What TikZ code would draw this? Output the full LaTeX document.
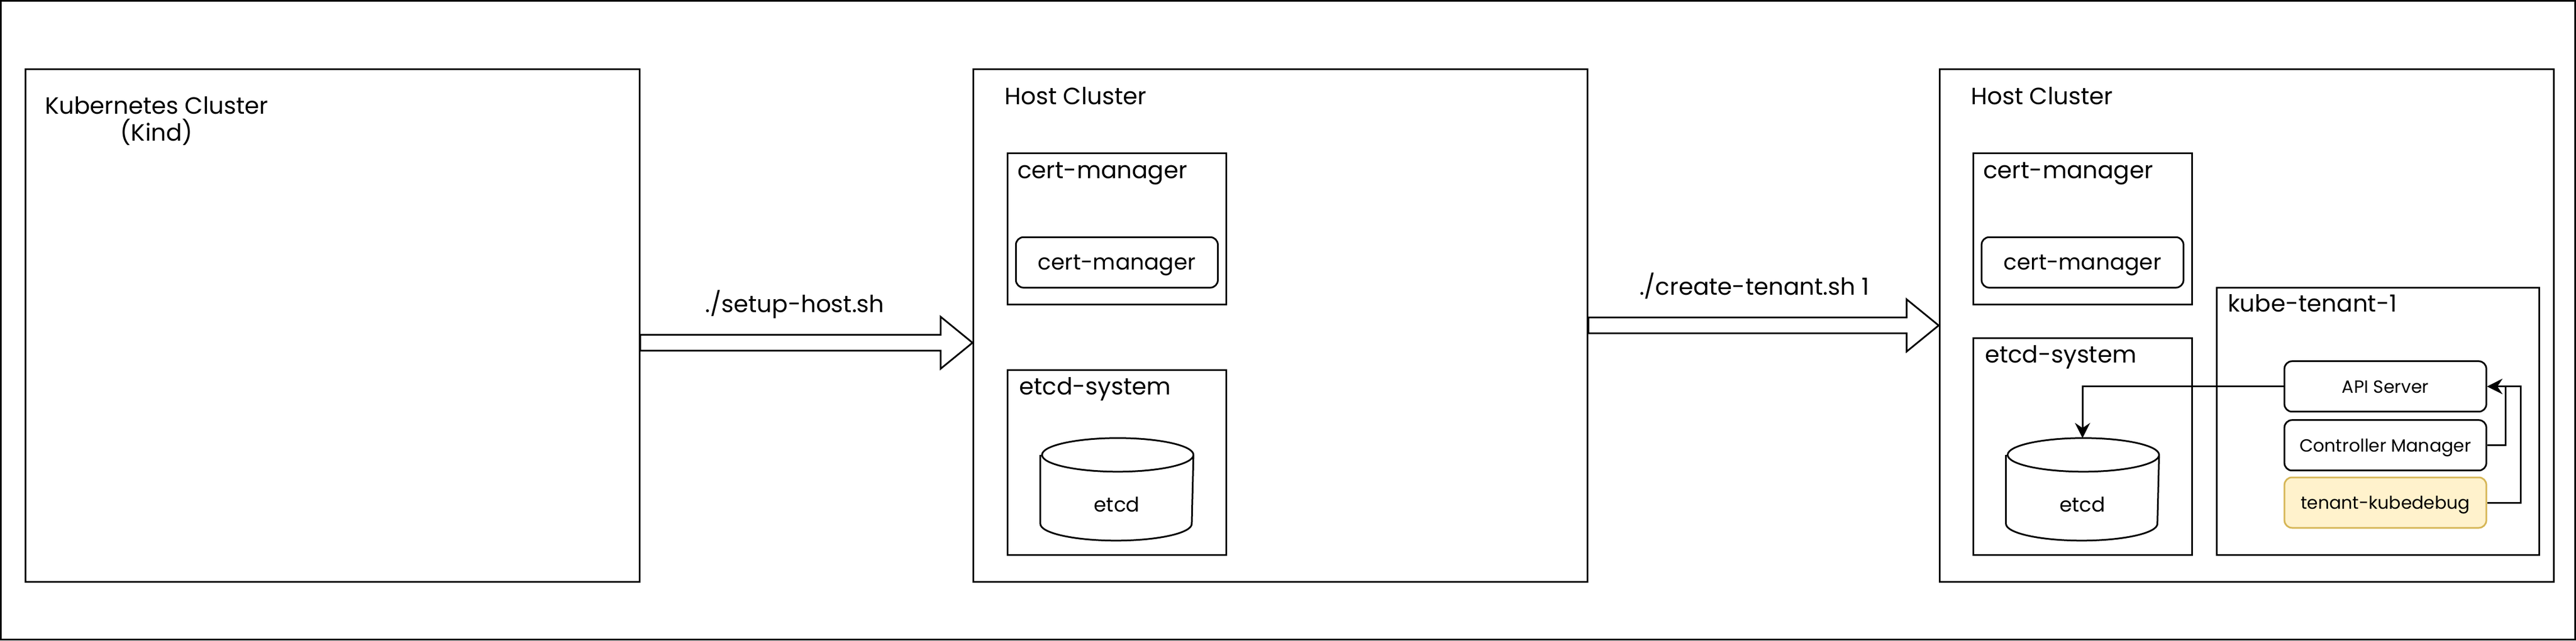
\documentclass[tikz,border=0pt]{standalone}
\usepackage{fontspec}
\setmainfont{Poppins}
\usetikzlibrary{arrows.meta}
\usetikzlibrary{calc}
\usetikzlibrary{positioning}

\definecolor{debugfill}{HTML}{FFF2CC}
\definecolor{debugline}{HTML}{D6B656}

% cylinder outline on a named node
\newcommand{\drawcyl}[1]{%
  \draw ([yshift=-10pt]#1.north west) -- ([yshift=10pt]#1.south west)
    arc[start angle=180,end angle=360,x radius=45pt,y radius=10pt]
    -- ([yshift=-10pt]#1.north east)
    arc[start angle=0,end angle=180,x radius=45pt,y radius=10pt]
    arc[start angle=180,end angle=360,x radius=45pt,y radius=10pt];}

% block arrow between two points
\newcommand{\bigarrow}[2]{%
  \draw[fill=white] let \p1=(#1), \p2=(#2) in
    (\x1,\y1+4.7pt) -- (\x2-19pt,\y1+4.7pt) -- (\x2-19pt,\y1+15.5pt) -- (\x2,\y1)
    -- (\x2-19pt,\y1-15.5pt) -- (\x2-19pt,\y1-4.7pt) -- (\x1,\y1-4.7pt) -- cycle;}

\begin{document}
\begin{tikzpicture}[x=1pt,y=1pt,line width=1pt,
  frame/.style={draw,anchor=north west,inner sep=0pt,minimum width=365pt,minimum height=305pt},
  group/.style={draw,anchor=north west,inner sep=0pt,minimum width=130pt},
  comp/.style={draw,rounded corners=4.5pt,anchor=north west,inner sep=0pt,minimum width=120pt,minimum height=30pt,font=\fontsize{10.5}{12}\selectfont,text height=7.6pt,text depth=0pt},
  debug/.style={comp,draw=debugline,fill=debugfill},
  cyl/.style={anchor=north west,inner sep=0pt,minimum width=90pt,minimum height=60pt,font=\fontsize{12}{14}\selectfont,text height=26.6pt,text depth=0pt},
  title/.style={anchor=base west,inner sep=0pt,font=\fontsize{14}{16.8}\selectfont},
  cmd/.style={anchor=base,inner sep=0pt,font=\fontsize{14}{16.8}\selectfont},
  flow/.style={-{Stealth[length=9pt,width=9pt,inset=3pt]}}]
  \useasboundingbox (0,0) rectangle (1531,-381);
  \draw (0.5,-0.5) rectangle (1530.5,-380.5);

  %kind cluster
  \node[frame] (kind) at (14.5,-40.6) {};
  \node[cmd,align=center,font=\fontsize{14}{16.1}\selectfont] (kindlabel) at (93.1,-83.9) {Kubernetes Cluster\\(Kind)};

  %host cluster 1
  \node[frame] (hostA) at (578,-40.6) {};
  \node[title] (hostAlabel) at (596.7,-62) {Host Cluster};
  \node[group,minimum height=90pt] (certA) at (598.3,-90.6) {};
  \node[title] (certAlabel) at (604.3,-106) {cert-manager};
  \node[comp,font=\fontsize{13}{15}\selectfont,text height=9pt] (certmgrA) at (603.3,-140.6) {cert-manager};
  \node[group,minimum height=110pt] (etcdsysA) at (598.3,-219.6) {};
  \node[title] (etcdsysAlabel) at (605.3,-234.7) {etcd-system};
  \node[cyl] (etcdA) at (618.3,-260.6) {etcd};
  \drawcyl{etcdA}

  %host cluster 2
  \node[frame] (hostB) at (1152.2,-40.6) {};
  \node[title] (hostBlabel) at (1170.9,-62) {Host Cluster};
  \node[group,minimum height=90pt] (certB) at (1172.2,-90.6) {};
  \node[title] (certBlabel) at (1178.3,-106) {cert-manager};
  \node[comp,font=\fontsize{13}{15}\selectfont,text height=9pt] (certmgrB) at (1177.2,-140.6) {cert-manager};
  \node[group,minimum height=129pt] (etcdsysB) at (1172.2,-200.6) {};
  \node[title] (etcdsysBlabel) at (1179.2,-215.8) {etcd-system};
  \node[cyl] (etcdB) at (1192.2,-260.6) {etcd};
  \drawcyl{etcdB}

  %tenant
  \node[draw,anchor=north west,inner sep=0pt,minimum width=191.5pt,minimum height=159pt] (tenant) at (1317,-170.5) {};
  \node[title] (tenantlabel) at (1323.6,-185.4) {kube-tenant-1};
  \node[comp] (apisrv) at (1357.2,-214.4) {API Server};
  \node[comp] (ctrlmgr) at (1357.2,-249.4) {Controller Manager};
  \node[debug] (kubedebug) at (1357.2,-283.5) {tenant-kubedebug};

  \draw[flow] (apisrv.west) -| (etcdB.north);
  \draw[flow] (ctrlmgr.east) -- ++(11,0) |- (apisrv.east);
  \draw[flow] (kubedebug.east) -- ++(20,0) |- (apisrv.east);

  %arrows
  \bigarrow{$(kind.east)+(0,-10.3)$}{hostA.west}
  \node[cmd] (setuplabel) at (472.4,-185.8) {./setup-host.sh};
  \bigarrow{hostA.east}{hostB.west}
  \node[cmd] (tenantcmd) at (1042.7,-175.6) {./create-tenant.sh 1};
\end{tikzpicture}
\end{document}
